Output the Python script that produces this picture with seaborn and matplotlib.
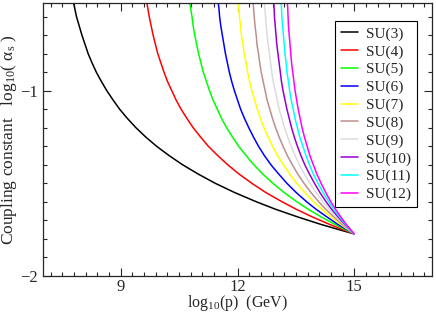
import numpy as np
import pandas as pd
import matplotlib
matplotlib.use("Agg")
import matplotlib.pyplot as plt
from matplotlib.ticker import MultipleLocator
import seaborn as sns

# log10(alpha_s) levels, shared by all curves
y_levels = [-1.773, -1.75, -1.72, -1.68, -1.64, -1.6, -1.55, -1.5, -1.45, -1.4,
            -1.35, -1.3, -1.25, -1.2, -1.15, -1.1, -1.05, -1.0, -0.95, -0.9,
            -0.85, -0.8, -0.75, -0.7, -0.65, -0.6, -0.55, -0.5]

su3 = [15.00, 14.61, 14.12, 13.53, 12.98, 12.49, 11.93, 11.43, 10.99, 10.59,
       10.24, 9.92, 9.64, 9.39, 9.17, 8.97, 8.80, 8.64, 8.50, 8.37,
       8.26, 8.16, 8.08, 8.00, 7.93, 7.86, 7.81, 7.76]
su4 = [15.00, 14.71, 14.35, 13.91, 13.51, 13.15, 12.73, 12.37, 12.04, 11.75,
       11.49, 11.25, 11.05, 10.86, 10.70, 10.55, 10.42, 10.31, 10.20, 10.11,
       10.03, 9.95, 9.89, 9.83, 9.78, 9.73, 9.69, 9.65]
su5 = [15.00, 14.77, 14.49, 14.14, 13.82, 13.53, 13.20, 12.91, 12.65, 12.42,
       12.22, 12.03, 11.87, 11.72, 11.59, 11.48, 11.37, 11.28, 11.20, 11.12,
       11.06, 11.00, 10.95, 10.90, 10.86, 10.83, 10.79, 10.76]
su6 = [15.00, 14.81, 14.57, 14.29, 14.02, 13.78, 13.51, 13.27, 13.06, 12.86,
       12.69, 12.54, 12.41, 12.29, 12.18, 12.08, 12.00, 11.92, 11.85, 11.79,
       11.74, 11.69, 11.65, 11.61, 11.57, 11.54, 11.52, 11.49]
su7 = [15.00, 14.84, 14.64, 14.39, 14.17, 13.96, 13.73, 13.52, 13.34, 13.18,
       13.03, 12.90, 12.79, 12.68, 12.59, 12.51, 12.44, 12.37, 12.31, 12.26,
       12.22, 12.17, 12.14, 12.10, 12.08, 12.05, 12.03, 12.01]
su8 = [15.00, 14.86, 14.68, 14.47, 14.27, 14.09, 13.89, 13.71, 13.55, 13.41,
       13.28, 13.17, 13.07, 12.98, 12.90, 12.83, 12.76, 12.71, 12.66, 12.61,
       12.57, 12.54, 12.50, 12.48, 12.45, 12.43, 12.41, 12.39]
su9 = [15.00, 14.87, 14.72, 14.53, 14.36, 14.20, 14.02, 13.86, 13.72, 13.59,
       13.48, 13.38, 13.29, 13.21, 13.14, 13.07, 13.02, 12.97, 12.92, 12.88,
       12.85, 12.82, 12.79, 12.76, 12.74, 12.72, 12.70, 12.69]
su10 = [15.00, 14.89, 14.75, 14.58, 14.42, 14.28, 14.12, 13.98, 13.85, 13.73,
        13.63, 13.54, 13.46, 13.39, 13.33, 13.27, 13.22, 13.17, 13.13, 13.10,
        13.07, 13.04, 13.01, 12.99, 12.97, 12.95, 12.94, 12.92]
su11 = [15.00, 14.90, 14.77, 14.62, 14.47, 14.35, 14.20, 14.07, 13.95, 13.85,
        13.76, 13.68, 13.60, 13.54, 13.48, 13.43, 13.38, 13.34, 13.31, 13.27,
        13.25, 13.22, 13.20, 13.18, 13.16, 13.14, 13.13, 13.11]
su12 = [15.00, 14.91, 14.79, 14.65, 14.52, 14.40, 14.27, 14.15, 14.04, 13.95,
        13.86, 13.79, 13.72, 13.66, 13.61, 13.56, 13.52, 13.48, 13.45, 13.42,
        13.39, 13.37, 13.35, 13.33, 13.31, 13.30, 13.29, 13.27]

groups = ["SU(3)", "SU(4)", "SU(5)", "SU(6)", "SU(7)", "SU(8)",
          "SU(9)", "SU(10)", "SU(11)", "SU(12)"]
series = [su3, su4, su5, su6, su7, su8, su9, su10, su11, su12]
colors = ["#000000", "#ff0000", "#00ff00", "#0000ff", "#ffff00", "#bc8f8f",
          "#dcdcdc", "#9400d3", "#00ffff", "#ff00ff"]

df = pd.concat([pd.DataFrame({"x": xs, "y": y_levels, "group": g})
                for g, xs in zip(groups, series)], ignore_index=True)

sns.set_style("ticks")
plt.rcParams["font.family"] = ["Liberation Serif", "DejaVu Serif"]
plt.rcParams["mathtext.fontset"] = "custom"
plt.rcParams["mathtext.rm"] = "Liberation Serif"
plt.rcParams["mathtext.it"] = "Liberation Serif:italic"

fig = plt.figure(figsize=(4.36, 3.14), dpi=100)
ax = fig.add_axes([43 / 436, 1 - 276 / 314, 389 / 436, 273 / 314])

sns.lineplot(data=df, x="x", y="y", hue="group", palette=colors,
             estimator=None, sort=False, linewidth=1.1, ax=ax)

ax.set_xlim(7, 17)
ax.set_ylim(-2, -0.527)
ax.xaxis.set_major_locator(MultipleLocator(3))
ax.xaxis.set_minor_locator(MultipleLocator(0.3))
ax.yaxis.set_major_locator(MultipleLocator(1))
ax.yaxis.set_minor_locator(MultipleLocator(0.1))
ax.tick_params(which="both", direction="in", top=True, right=True, labelsize=12, width=0.8)
ax.tick_params(which="major", length=6)
ax.tick_params(which="minor", length=3)
ax.tick_params(axis="x", pad=2)
for s in ax.spines.values():
    s.set_linewidth(0.9)

ax.set_xlabel(r"log$_{10}$(p)  (GeV)", fontsize=11.5, labelpad=-1)
ax.set_ylabel(r"Coupling constant   log$_{10}$( $\mathrm{\alpha}_{\mathrm{s}}$ )", fontsize=12.5, labelpad=1)

leg = ax.legend(loc="upper right", bbox_to_anchor=(0.961, 0.935), fontsize=11,
                frameon=True, fancybox=False, framealpha=1, edgecolor="black",
                handlelength=1.1, handletextpad=0.5, labelspacing=0.26,
                borderpad=0.4, borderaxespad=0)
leg.get_frame().set_linewidth(0.8)
leg.set_title(None)

fig.savefig("out.png", dpi=100)
